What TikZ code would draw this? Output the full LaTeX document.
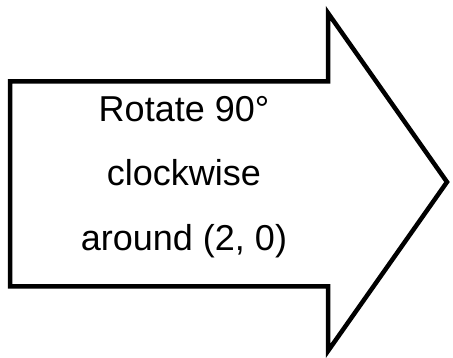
\documentclass[tikz,border=0pt]{standalone}
\usepackage{fontspec}
\setmainfont{Liberation Sans}
\begin{document}
\begin{tikzpicture}[x=1pt,y=-1pt]
      \useasboundingbox (0,0) rectangle (453,358);
      \draw[line width=4.5pt,line join=miter] (10,81.5) -- (328,81.5) -- (328,13)
      -- (447,182) -- (328,351) -- (328,286.5) -- (10,286.5) -- cycle;
      \node[rectangle,align=center,font=\fontsize{36}{64.5}\selectfont]
      (rotate) at (184,177) {Rotate 90°\\clockwise\\around (2, 0)};
    \end{tikzpicture}
\end{document}
